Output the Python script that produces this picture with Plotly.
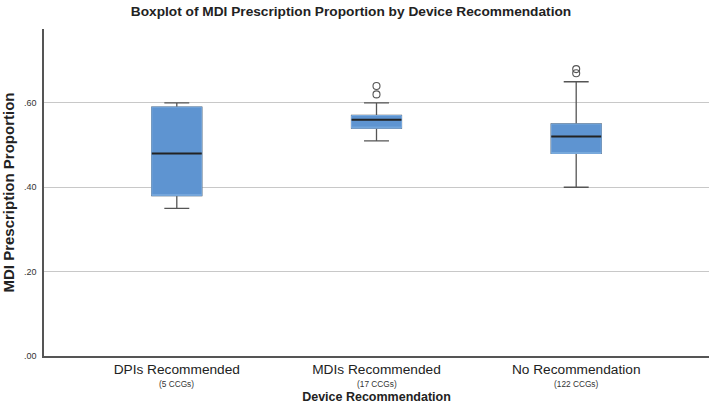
import plotly.graph_objects as go

# ---- data ----
categories = ["DPIs Recommended", "MDIs Recommended", "No Recommendation"]
n_labels = ["(5 CCGs)", "(17 CCGs)", "(122 CCGs)"]
lowerfence = [0.35, 0.51, 0.40]
q1 = [0.38, 0.54, 0.48]
median = [0.48, 0.56, 0.52]
q3 = [0.59, 0.57, 0.55]
upperfence = [0.60, 0.60, 0.65]
outlier_x = ["MDIs Recommended", "MDIs Recommended", "No Recommendation", "No Recommendation"]
outlier_y = [0.62, 0.64, 0.67, 0.68]
ytick_vals = [0.0, 0.2, 0.4, 0.6]
ytick_text = [".00", ".20", ".40", ".60"]

BOX_FILL = "#5e94d1"
BOX_EDGE = "#7aaade"
WHISK = "#555555"
MED = "#222222"
FONT = "Liberation Sans, Arial, sans-serif"
BW = 0.25

fig = go.Figure()
# whiskers (and full box underneath)
fig.add_trace(go.Box(
    x=categories, q1=q1, median=median, q3=q3,
    lowerfence=lowerfence, upperfence=upperfence,
    width=BW, whiskerwidth=0.5, fillcolor=BOX_FILL,
    line=dict(color=WHISK, width=1.3), boxpoints=False,
    hoverinfo="skip", showlegend=False))
# blue box on top (no whiskers)
fig.add_trace(go.Box(
    x=categories, q1=q1, median=q1, q3=q3,
    lowerfence=q1, upperfence=q3,
    width=BW, whiskerwidth=0, fillcolor=BOX_FILL,
    line=dict(color=BOX_EDGE, width=1), boxpoints=False,
    hoverinfo="skip", showlegend=False))
# median line
fig.add_trace(go.Box(
    x=categories, q1=median, median=median, q3=median,
    lowerfence=median, upperfence=median,
    width=BW, whiskerwidth=0, fillcolor="rgba(0,0,0,0)",
    line=dict(color=MED, width=2), boxpoints=False,
    hoverinfo="skip", showlegend=False))
# outliers
fig.add_trace(go.Scatter(
    x=outlier_x, y=outlier_y, mode="markers",
    marker=dict(symbol="circle-open", size=7, color=WHISK, line=dict(width=1.1)),
    hoverinfo="skip", showlegend=False))

for c, n in zip(categories, n_labels):
    fig.add_annotation(x=c, xref="x", y=0, yref="paper", yshift=-28,
                       text=n, showarrow=False, yanchor="middle",
                       font=dict(family=FONT, size=8.3, color="#333333"))

fig.update_layout(
    width=709, height=404,
    margin=dict(l=44, r=0, t=29, b=48),
    paper_bgcolor="white", plot_bgcolor="white",
    boxmode="overlay",
    title=dict(text="<b>Boxplot of MDI Prescription Proportion by Device Recommendation</b>",
               x=351 / 709, xref="container", xanchor="center",
               y=1 - 11 / 404, yref="container", yanchor="middle",
               font=dict(family=FONT, size=13.7, color="#222222")),
    xaxis=dict(type="category", categoryorder="array", categoryarray=categories,
               range=[-0.665, 2.665], showline=True, linecolor=WHISK, linewidth=2,
               showgrid=False, zeroline=False, ticks="", automargin=False,
               tickfont=dict(family=FONT, size=13.7, color="#222222"),
               title=dict(text="<b>Device Recommendation</b>", standoff=20,
                          font=dict(family=FONT, size=12.5, color="#222222"))),
    yaxis=dict(range=[0, 0.775], tickvals=ytick_vals, ticktext=ytick_text,
               showline=True, linecolor=WHISK, linewidth=1.5, automargin=False,
               showgrid=True, gridcolor="#c8c8c8", gridwidth=1, zeroline=False,
               ticks="", ticklabelstandoff=4,
               tickfont=dict(family=FONT, size=9, color="#333333"),
               title=dict(text="<b>MDI Prescription Proportion</b>", standoff=6,
                          font=dict(family=FONT, size=15, color="#222222"))),
)

fig.write_html("out.html", config={"displayModeBar": False},
               post_script="document.body.style.margin='0';document.body.style.overflow='hidden';")
